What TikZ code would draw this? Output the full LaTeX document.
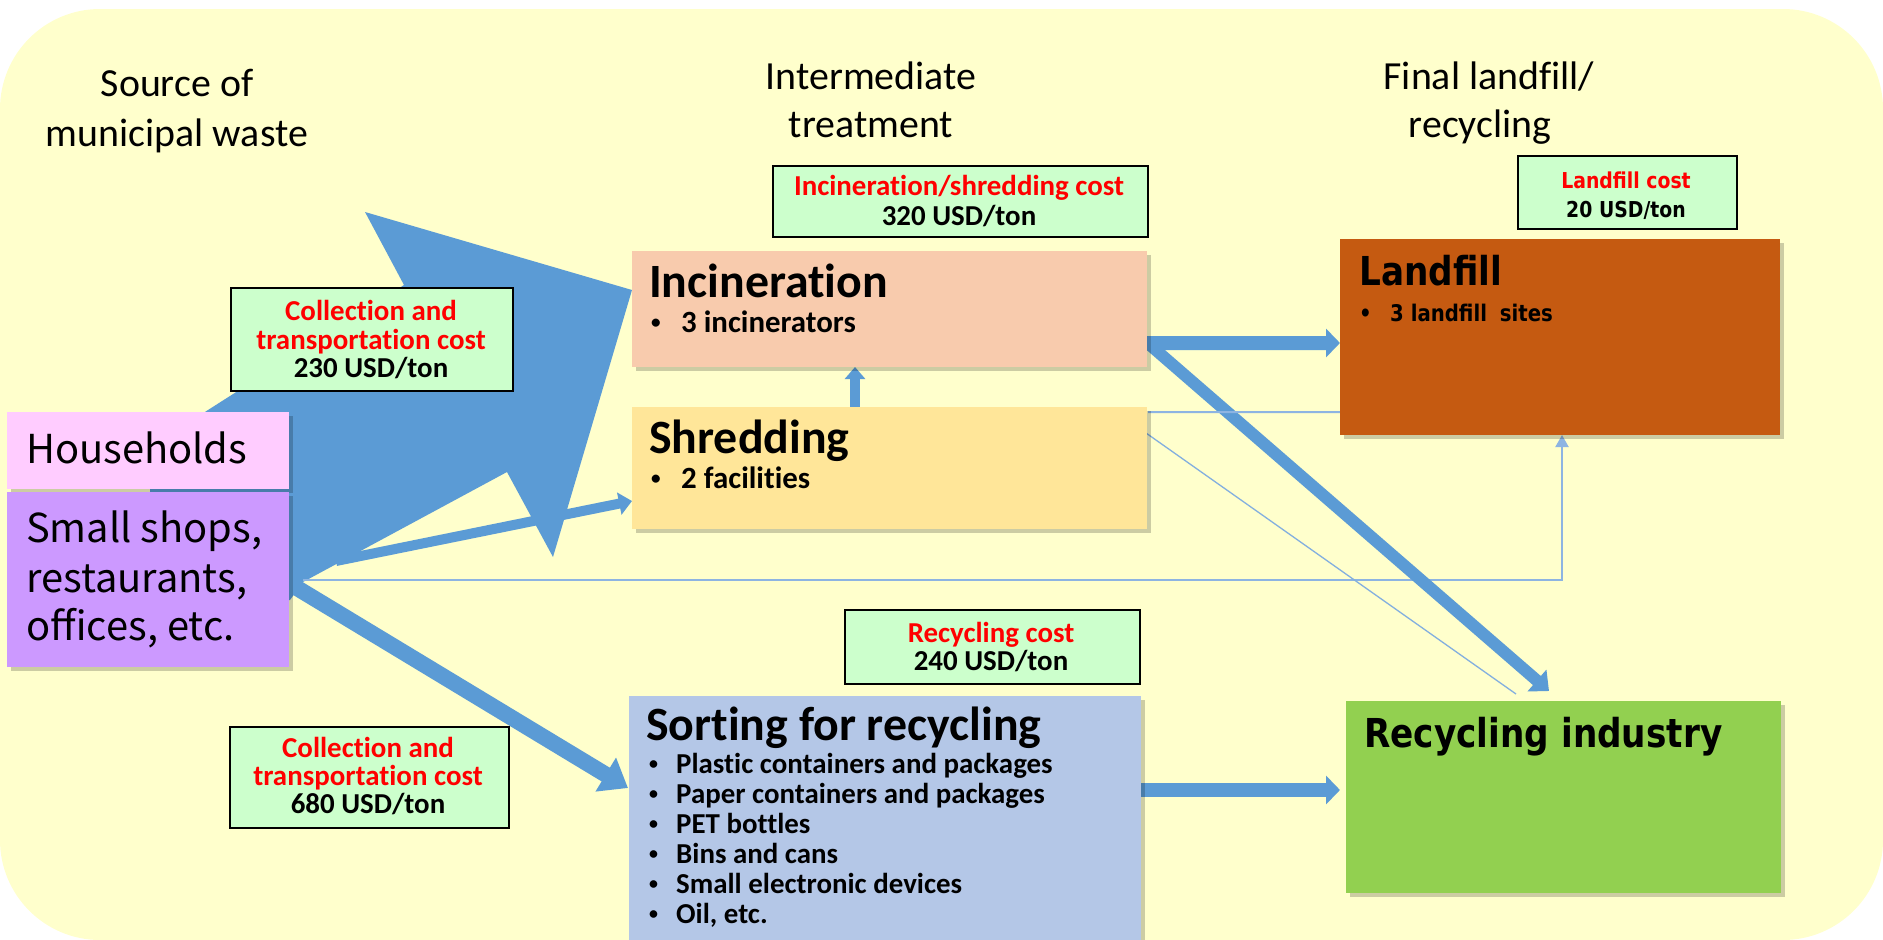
\documentclass[tikz,border=0pt]{standalone}
\usepackage{fontspec}
\usepackage{graphicx}
\setmainfont{Carlito}[RawFeature={-liga}]
\newfontfamily\jp{Noto Sans CJK JP}
\newfontfamily\dv{DejaVu Sans}[FakeStretch=0.86]
\usetikzlibrary{arrows.meta,shadows,calc}
\definecolor{bgc}{HTML}{FFFFCC}
\definecolor{housec}{HTML}{FFCCFF}
\definecolor{shopc}{HTML}{CC99FF}
\definecolor{incc}{HTML}{F8CBAD}
\definecolor{shredc}{HTML}{FFE699}
\definecolor{sortc}{HTML}{B4C7E7}
\definecolor{landc}{HTML}{C55A11}
\definecolor{recc}{HTML}{92D050}
\definecolor{costc}{HTML}{CCFFCC}
\definecolor{arrc}{HTML}{5B9BD5}
\definecolor{thinc}{HTML}{8DB4E2}
\definecolor{redc}{HTML}{FF0000}
\pgfdeclarelayer{arr}
\pgfsetlayers{arr,main}
\newcommand{\bul}[2]{\makebox[#1][l]{\raisebox{0.12em}{\scalebox{0.62}{\textbullet}}}#2}
\newcommand{\dbul}[2]{\makebox[#1][l]{\textbullet}#2}
\begin{document}
\begin{tikzpicture}[x=1bp,y=-1bp,
  box/.style={draw=none, inner sep=0pt, outer sep=0pt, anchor=north west,
    drop shadow={shadow xshift=4bp, shadow yshift=-4bp, opacity=0.2, fill=black}},
  costbox/.style={draw=black, line width=2bp, fill=costc, inner sep=0pt, anchor=north west},
  hdr/.style={font=\fontsize{40}{48}\selectfont, inner sep=0pt, anchor=base},
  cst/.style={font=\fontsize{29}{29}\selectfont\bfseries, inner sep=0pt, anchor=base},
  lcst/.style={font=\dv\bfseries\fontsize{22}{26}\selectfont, inner sep=0pt, anchor=base},
  ttl/.style={font=\fontsize{48}{56}\selectfont\bfseries, inner sep=0pt, anchor=base west},
  blt/.style={font=\fontsize{31}{36}\selectfont\bfseries, inner sep=0pt, anchor=base west},
  sblt/.style={font=\fontsize{29}{30}\selectfont\bfseries, inner sep=0pt, anchor=base west},
  dttl/.style={font=\dv\bfseries\fontsize{40}{46}\selectfont, inner sep=0pt, anchor=base west},
  srcl/.style={font=\jp\fontsize{40}{48}\selectfont, inner sep=0pt, anchor=base west},
  fat/.style={draw=arrc, line width=#1},
  thin/.style={draw=thinc, line width=2bp}
]
\useasboundingbox (0,0) rectangle (1883,940);

% ---------- boxes ----------
\node[box, fill=housec, minimum width=282bp, minimum height=77bp] (house) at (7,412) {};
\node[box, fill=shopc, minimum width=282bp, minimum height=175bp] (shops) at (7,492) {};
\node[box, fill=incc, minimum width=515bp, minimum height=116bp] (inc) at (632,251) {};
\node[box, fill=shredc, minimum width=515bp, minimum height=122bp] (shred) at (632,407) {};
\node[box, fill=sortc, minimum width=512bp, minimum height=260bp] (sort) at (629,696) {};
\node[box, fill=landc, minimum width=440bp, minimum height=196bp] (land) at (1340,239) {};
\node[box, fill=recc, minimum width=435bp, minimum height=192bp] (rec) at (1346,701) {};

\node[costbox, minimum width=375bp, minimum height=71bp] (cinc) at (772,165) {};
\node[costbox, minimum width=219bp, minimum height=73bp] (cland) at (1517,155) {};
\node[costbox, minimum width=282bp, minimum height=103bp] (ccol1) at (230,287) {};
\node[costbox, minimum width=295bp, minimum height=74bp] (crec) at (844,609) {};
\node[costbox, minimum width=279bp, minimum height=101bp] (ccol2) at (229,726) {};

% ---------- connectors (behind boxes) ----------
\begin{pgfonlayer}{arr}
\fill[bgc, rounded corners=100bp] (0,9) rectangle (1883,940);
\coordinate (src) at (303,582);
% huge arrow to incineration
\fill[arrc] (290,600) -- (src) -- (507,472) -- (553,557) -- ($(inc.west)+(0,-19)$)
  -- (365,212) -- (404,285) -- (150,447) -- (150,600) -- cycle;
% to shredding
\draw[fat=10bp, -{Triangle[length=13bp,width=22bp]}] (336,561) -- ($(shred.west)+(0,33)$);
% thin line to landfill bottom
\draw[thin, -{Triangle[length=12bp,width=13bp]}] ($(src)+(0,-2)$) -| ($(land.south west)+(222,0)$);
% to sorting
\draw[fat=16bp, -{Triangle[length=26bp,width=38bp]}] (297,588) -- ($(sort.north west)+(-1,92)$);
% shredding -> incineration
\draw[fat=10bp, -{Triangle[length=12bp,width=20bp]}] ($(shred.north west)+(223,0)$) -- ($(inc.south west)+(223,0)$);
% incineration -> landfill
\draw[fat=14bp, -{Triangle[length=14bp,width=28bp]}] ($(inc.south east)+(0,-24)$) -- ($(land.west)+(0,6)$);
% incineration -> recycling industry
\draw[fat=12bp, -{Triangle[length=16bp,width=28bp]}] ($(inc.south east)+(3,-22)$) -- ($(rec.north west)+(203,-10)$);
% shredding -> landfill (thin)
\draw[thin] ($(shred.north east)+(1,5)$) -- ($(land.south west)+(3,-23)$);
% shredding -> recycling industry (thin)
\draw[draw=thinc!80!arrc, line width=1.3bp] ($(shred.north east)+(-1,26)$) -- ($(rec.north west)+(170,-7)$);
% sorting -> recycling industry
\draw[fat=14bp, -{Triangle[length=14bp,width=28bp]}] ($(sort.north east)+(0,94)$) -- ($(land.west |- 0,790)$);
\end{pgfonlayer}

% ---------- headers ----------
\node[hdr] (h1a) at (177,96) {Source of};
\node[hdr] (h1b) at (177,146) {municipal waste};
\node[hdr] (h2a) at (871,89) {Intermediate};
\node[hdr] (h2b) at (871,137) {treatment};
\node[hdr] (h3a) at (1489,89) {Final landfill/};
\node[hdr] (h3b) at (1480,137) {recycling};

% ---------- cost labels ----------
\node[cst, text=redc] (cinc1) at (959,195) {Incineration/shredding cost};
\node[cst] (cinc2) at (959,225) {320 USD/ton};
\node[lcst, text=redc] (cland1) at (1626,188) {Landfill cost};
\node[lcst] (cland2) at (1626,217) {20 USD/ton};
\node[cst, text=redc] (ccol1a) at (371,320) {Collection and};
\node[cst, text=redc] (ccol1b) at (371,349) {transportation cost};
\node[cst] (ccol1c) at (371,377) {230 USD/ton};
\node[cst, text=redc] (crec1) at (991,642) {Recycling cost};
\node[cst] (crec2) at (991,670) {240 USD/ton};
\node[cst, text=redc] (ccol2a) at (368,757) {Collection and};
\node[cst, text=redc] (ccol2b) at (368,785) {transportation cost};
\node[cst] (ccol2c) at (368,813) {680 USD/ton};

% ---------- box texts ----------
\node[srcl] (houseT) at (26,463) {Households};
\node[srcl] (shopT1) at (26,542) {Small shops,};
\node[srcl] (shopT2) at (26,592) {restaurants,};
\node[srcl] (shopT3) at (26,640) {offices, etc.};

\node[ttl] (incT) at (649,297) {Incineration};
\node[blt] (incB) at (651,332) {\bul{30bp}{3 incinerators}};
\node[ttl] (shredT) at (649,453) {Shredding};
\node[blt] (shredB) at (651,488) {\bul{30bp}{2 facilities}};
\node[ttl] (sortT) at (646,740) {Sorting for recycling};
\foreach \t [count=\i from 0] in {Plastic containers and packages, Paper containers and packages, PET bottles, Bins and cans, Small electronic devices, {Oil, etc.}}
  \node[sblt] (sortB\i) at (649,773+30*\i) {\bul{27bp}{\t}};

\node[dttl] (landT) at (1359,285) {Landfill};
\node[font=\dv\bfseries\fontsize{23}{28}\selectfont, inner sep=0pt, anchor=base west] (landB) at (1359,321) {\dbul{31bp}{3 landfill\hspace{6bp} sites}};
\node[dttl] (recT) at (1364,747) {Recycling\hspace{12bp}industry};
\end{tikzpicture}
\end{document}
